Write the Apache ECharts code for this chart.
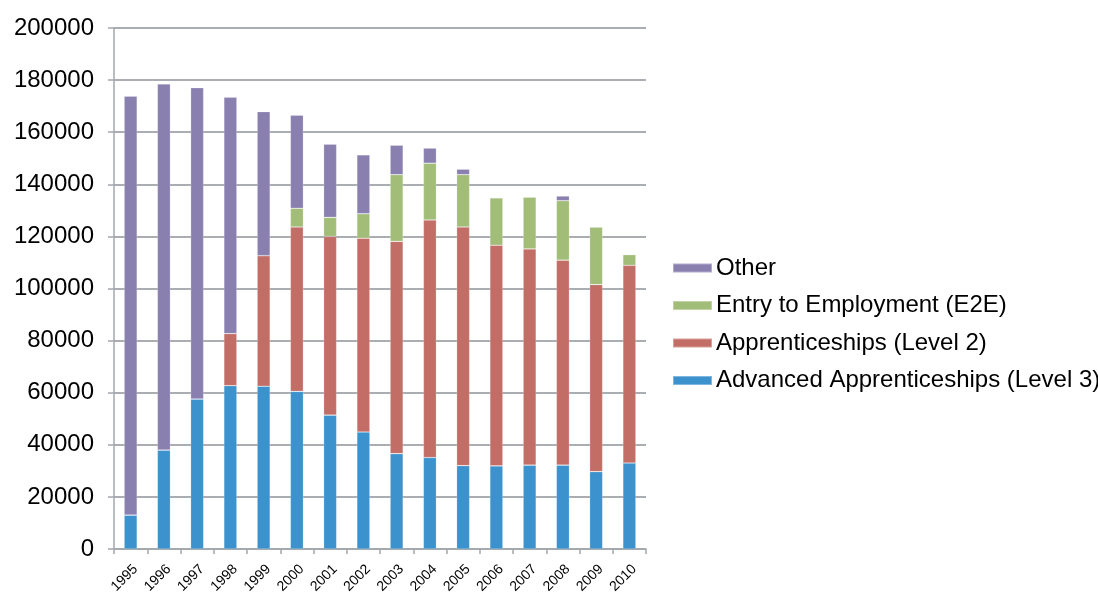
<!DOCTYPE html>
<html>
<head>
<meta charset="utf-8">
<script src="https://cdn.jsdelivr.net/npm/echarts@6/dist/echarts.min.js"></script>
<style>
  html, body { margin: 0; padding: 0; background: #ffffff; }
  #chart { width: 1098px; height: 592px; }
</style>
</head>
<body>
<div id="chart"></div>
<script>
// Apprenticeship starts by programme type, 1995-2010
const years = ['1995', '1996', '1997', '1998', '1999', '2000', '2001', '2002',
               '2003', '2004', '2005', '2006', '2007', '2008', '2009', '2010'];

const advancedL3 = [13050, 38000, 57600, 62700, 62500, 60500, 51400, 44900,
                    36600, 35100, 32000, 31900, 32200, 32200, 29700, 33000];
const apprenticeshipsL2 = [0, 0, 0, 20000, 50100, 63100, 68600, 74400,
                           81500, 91200, 91600, 84700, 83000, 78700, 71800, 75900];
const entryToEmployment = [0, 0, 0, 0, 0, 7200, 7300, 9400,
                           25600, 21800, 20100, 18200, 19900, 22800, 22100, 4100];
const other = [160750, 140500, 119500, 90700, 55300, 35700, 28100, 22600,
               11300, 5800, 2100, 0, 0, 1800, 0, 0];

const yTicks = [0, 20000, 40000, 60000, 80000, 100000, 120000, 140000, 160000, 180000, 200000];

const FONT = '"Liberation Sans", Arial, sans-serif';
const GRID_COLOR = '#8e9398';
const AXIS_COLOR = '#a3a8ad';

const seriesDefs = [
  { name: 'Advanced Apprenticeships (Level 3)', data: advancedL3, color: '#3b92cc' },
  { name: 'Apprenticeships (Level 2)', data: apprenticeshipsL2, color: '#c26e66' },
  { name: 'Entry to Employment (E2E)', data: entryToEmployment, color: '#a2bd78' },
  { name: 'Other', data: other, color: '#8a80b0' }
];

const chart = echarts.init(document.getElementById('chart'), null, { renderer: 'canvas' });

chart.setOption({
  animation: false,
  backgroundColor: '#ffffff',
  textStyle: { fontFamily: FONT },
  grid: { left: 114, right: 452, top: 28, bottom: 43, containLabel: false, outerBoundsMode: 'none' },
  legend: {
    orient: 'vertical',
    left: 672,
    top: 256,
    padding: 0,
    itemWidth: 39,
    itemHeight: 9,
    itemGap: 13.5,
    icon: 'rect',
    data: ['Other', 'Entry to Employment (E2E)', 'Apprenticeships (Level 2)', 'Advanced Apprenticeships (Level 3)'],
    textStyle: { fontFamily: FONT, fontSize: 24, color: '#000000', padding: [0, 0, 0, -1] }
  },
  xAxis: {
    type: 'category',
    data: years,
    boundaryGap: true,
    axisLine: { show: true, lineStyle: { color: AXIS_COLOR, width: 1.5 } },
    axisTick: { show: true, length: 5, alignWithLabel: false, lineStyle: { color: AXIS_COLOR, width: 1.5 } },
    axisLabel: {
      rotate: 45,
      margin: 13,
      fontFamily: FONT,
      fontSize: 14,
      color: '#000000',
      verticalAlign: 'top',
      interval: 0
    },
    splitLine: { show: false }
  },
  yAxis: {
    type: 'value',
    min: yTicks[0],
    max: yTicks[yTicks.length - 1],
    interval: yTicks[1] - yTicks[0],
    axisLine: { show: true, lineStyle: { color: AXIS_COLOR, width: 1.5 } },
    axisTick: { show: true, length: 6, inside: false, lineStyle: { color: AXIS_COLOR, width: 1.5 } },
    axisLabel: {
      margin: 20,
      fontFamily: FONT,
      fontSize: 24,
      color: '#000000',
      formatter: v => String(v)
    },
    splitLine: { show: true, lineStyle: { color: GRID_COLOR, width: 1.5 } }
  },
  series: seriesDefs.map(s => ({
    name: s.name,
    type: 'bar',
    stack: 'total',
    barWidth: 13,
    data: s.data,
    itemStyle: {
      color: s.color,
      borderColor: 'rgba(255,255,255,0.35)',
      borderWidth: 0.6
    },
    emphasis: { disabled: true }
  }))
});
</script>
</body>
</html>
